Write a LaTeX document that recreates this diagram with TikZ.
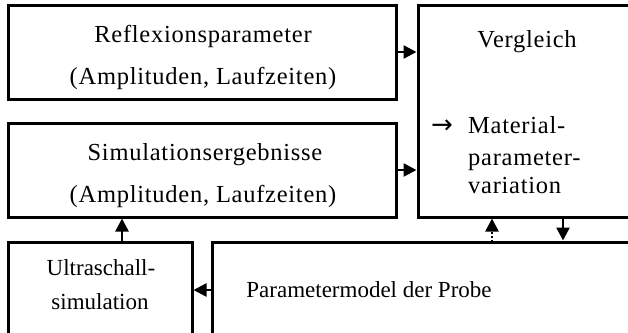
\documentclass[tikz,border=0pt]{standalone}
\usepackage{fontspec}
\setmainfont{Liberation Serif}
\newfontfamily\spacedfont[LetterSpace=3]{Liberation Serif}
\newfontfamily\arrowfont{DejaVu Sans}
\usetikzlibrary{arrows.meta}
\begin{document}
\begin{tikzpicture}[x=1pt,y=-1pt,
  box/.style={draw,line width=3pt,inner sep=0pt},
  txt/.style={anchor=base,inner sep=0pt,font=\fontsize{23}{26}\selectfont},
  stxt/.style={anchor=base,inner sep=0pt,font=\spacedfont\fontsize{24.5}{28}\selectfont},
  arr/.style={line width=2.4pt,-{Triangle[length=13pt,width=13pt]}}]
\useasboundingbox (0,0) rectangle (628,332);
\clip (0,0) rectangle (628,332);
\fill[white] (0,0) rectangle (628,332);
% boxes
\node[box,minimum width=388pt,minimum height=94pt] (refl) at (202,52) {};
\node[box,minimum width=222pt,minimum height=212pt] (verg) at (529,111) {};
\node[box,minimum width=388pt,minimum height=94pt] (sim) at (202,170) {};
\node[box,minimum width=184pt,minimum height=103pt] (ultra) at (100,293.5) {};
\node[box,minimum width=428pt,minimum height=103pt] (param) at (426,293.5) {};
% texts
\node[stxt] (t1) at (203,42) {Reflexionsparameter};
\node[stxt] (t2) at (203,84) {(Amplituden, Laufzeiten)};
\node[stxt] (t3) at (205,160) {Simulationsergebnisse};
\node[stxt] (t4) at (203,202) {(Amplituden, Laufzeiten)};
\node[stxt] (t5) at (527,47) {Vergleich};
\node[txt,anchor=base west,font=\arrowfont\fontsize{26}{28}\selectfont] (ar) at (431,133) {→};
\node[stxt,anchor=base west] (t6) at (468,133) {Material-};
\node[stxt,anchor=base west] (t7) at (468,165) {parameter-};
\node[stxt,anchor=base west] (t8) at (468,193) {variation};
\node[txt] (t9) at (101,275) {Ultraschall-};
\node[txt] (t10) at (100,309) {simulation};
\node[txt] (t11) at (369,297) {Parametermodel der Probe};
% connectors
\draw[arr] (refl.east) -- (verg.west |- refl.east);
\draw[arr] (sim.east) -- (verg.west |- sim.east);
\coordinate (u1) at (122,242);
\draw[arr] (u1) -- (u1 |- sim.south);
\coordinate (p1) at (212,290);
\draw[arr] (p1) -- (p1 -| ultra.east);
\coordinate (v1) at (563,217);
\draw[arr] (v1) -- (v1 |- param.north);
\coordinate (p2) at (492,242);
\draw[arr,dash pattern=on 2pt off 2pt] (p2) -- (p2 |- verg.south);
\end{tikzpicture}
\end{document}
